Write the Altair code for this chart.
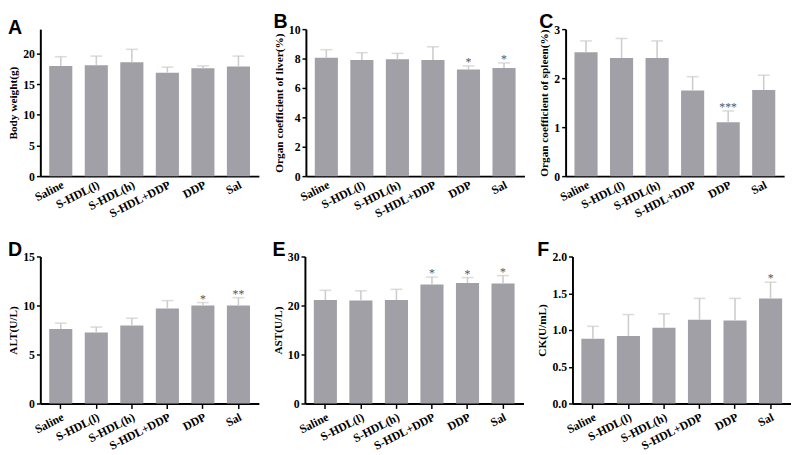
import altair as alt
import pandas as pd

cats = ["Saline", "S-HDL(l)", "S-HDL(h)", "S-HDL+DDP", "DDP", "Sal"]

a_mean = [18.0, 18.1, 18.6, 16.9, 17.6, 17.9]
a_top = [19.5, 19.6, 20.7, 17.8, 18.0, 19.6]
a_star = ["", "", "", "", "", ""]

b_mean = [8.05, 7.9, 7.95, 7.9, 7.25, 7.35]
b_top = [8.6, 8.4, 8.35, 8.8, 7.5, 7.7]
b_star = ["", "", "", "", "*", "*"]

c_mean = [2.53, 2.41, 2.41, 1.75, 1.1, 1.76]
c_top = [2.76, 2.81, 2.76, 2.03, 1.33, 2.06]
c_star = ["", "", "", "", "***", ""]

d_mean = [7.6, 7.25, 7.95, 9.7, 10.0, 10.0]
d_top = [8.2, 7.8, 8.7, 10.5, 10.3, 10.8]
d_star = ["", "", "", "", "*", "**"]

e_mean = [21.1, 21.0, 21.1, 24.3, 24.6, 24.5]
e_top = [23.1, 23.0, 23.3, 25.8, 25.7, 26.1]
e_star = ["", "", "", "*", "*", "*"]

f_mean = [0.88, 0.92, 1.03, 1.14, 1.13, 1.43]
f_top = [1.05, 1.21, 1.22, 1.43, 1.43, 1.65]
f_star = ["", "", "", "", "", "*"]

BAR = "#a0a0a6"
ERR = "#cdcdcd"
W, H = 223, 150


def panel(letter, means, tops, stars, ytitle, domain, ticks, fmt, xticks):
    df = pd.DataFrame({"cat": cats, "mean": means, "top": tops, "star": stars})
    xenc = alt.X(
        "cat:N", sort=cats, title=None,
        scale=alt.Scale(paddingInner=0.35, paddingOuter=0.25),
        axis=alt.Axis(labelAngle=-27, ticks=xticks, tickSize=5, labelPadding=3),
    )
    yscale = alt.Scale(domain=domain, nice=False, zero=True)
    yaxis = alt.Axis(values=ticks, format=fmt, tickSize=4, labelOverlap=False)

    def Y(field):
        return alt.Y(field, scale=yscale, axis=yaxis, title=ytitle)

    base = alt.Chart(df).encode(x=xenc)
    bars = base.mark_bar(color=BAR).encode(y=Y("mean:Q"))
    rule = base.mark_rule(color=ERR, strokeWidth=1.6).encode(y=Y("mean:Q"), y2="top:Q")
    cap = base.mark_tick(color=ERR, size=12, thickness=1.6, orient="horizontal").encode(y=Y("top:Q"))
    txt = base.mark_text(baseline="bottom", dy=3, font="Liberation Serif",
                         fontSize=12, fill="#555555").encode(y=Y("top:Q"), text="star:N")
    return alt.layer(bars, rule, cap, txt).properties(
        width=W, height=H,
        title=alt.TitleParams(letter, anchor="start", frame="bounds",
                              font="Liberation Sans", fontWeight="bold",
                              fontSize=20, color="black", offset=-9),
    )


pA = panel("A", a_mean, a_top, a_star, "Body weight(g)", [0, 24], [0, 5, 10, 15, 20], "d", False)
pB = panel("B", b_mean, b_top, b_star, "Organ coefficient of liver(%)", [0, 10], [0, 2, 4, 6, 8, 10], "d", False)
pC = panel("C", c_mean, c_top, c_star, "Organ coefficient of spleen(%)", [0, 3], [0, 1, 2, 3], "d", False)
pD = panel("D", d_mean, d_top, d_star, "ALT(U/L)", [0, 15], [0, 5, 10, 15], "d", True)
pE = panel("E", e_mean, e_top, e_star, "AST(U/L)", [0, 30], [0, 10, 20, 30], "d", True)
pF = panel("F", f_mean, f_top, f_star, "CK(U/mL)", [0, 2], [0, 0.5, 1, 1.5, 2], ".1f", True)

chart = alt.vconcat(
    alt.hconcat(pA, pB, pC, spacing=14),
    alt.hconcat(pD, pE, pF, spacing=14),
    spacing=21,
).properties(padding=0).configure_view(stroke=None).configure_axis(
    grid=False,
    domainColor="black", domainWidth=2,
    tickColor="black", tickWidth=1.5,
    labelFont="Liberation Serif", labelFontWeight="bold", labelFontSize=12, labelColor="black",
    titleFont="Liberation Serif", titleFontWeight="bold", titleFontSize=11.5, titleColor="black",
)

chart.save("out.html", embed_options={"renderer": "svg", "actions": False})
